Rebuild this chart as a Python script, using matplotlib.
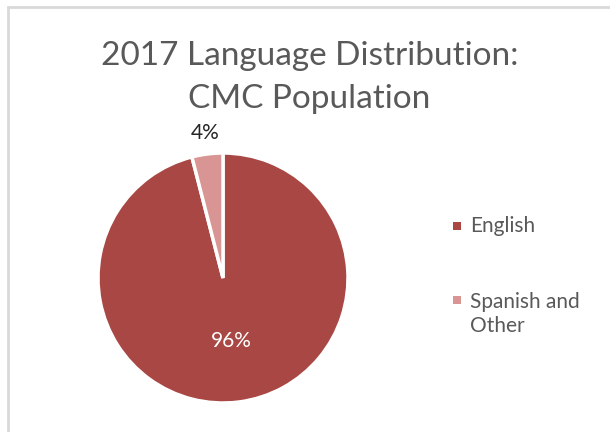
import numpy as np
import matplotlib.pyplot as plt
from matplotlib.patches import Rectangle

languages = ["English", "Spanish and\nOther"]
shares = [96, 4]
colors = ["#A84744", "#D89593"]

plt.rcParams["font.family"] = ["Lato", "DejaVu Sans"]

fig = plt.figure(figsize=(6.10, 4.32), dpi=100)

# light grey frame round the chart area
fig.patches.append(Rectangle((8 / 610, -0.1), 1.2, 1.1 - 7 / 432, transform=fig.transFigure,
                             fill=False, edgecolor="#D9D9D9", linewidth=2))

fig.text(0.507, 1 - 56 / 432, "2017 Language Distribution:", ha="center", va="center",
         fontsize=24, color="#595959")
fig.text(0.507, 1 - 99 / 432, "CMC Population", ha="center", va="center",
         fontsize=24, color="#595959")

cx, cy, r = 223, 278, 125
ax = fig.add_axes([(cx - r) / 610, 1 - (cy + r) / 432, 2 * r / 610, 2 * r / 432])
wedges, texts, autotexts = ax.pie(
    shares, colors=colors, startangle=90, counterclock=False,
    autopct="%.0f%%", pctdistance=0.51,
    wedgeprops=dict(edgecolor="white", linewidth=2.5),
    textprops=dict(fontsize=15),
)
ax.set_xlim(-1, 1)
ax.set_ylim(-1, 1)
ax.set_aspect("auto")

autotexts[0].set_color("white")
# small slice gets its label outside the pie
w = wedges[1]
mid = np.deg2rad((w.theta1 + w.theta2) / 2)
autotexts[1].set_position((1.17 * np.cos(mid), 1.17 * np.sin(mid)))
autotexts[1].set_color("#262626")

# legend
for lab, col, ysq, ytxt in zip(languages, colors, [226, 300], [226, 314]):
    fig.patches.append(Rectangle((453 / 610, 1 - (ysq + 4) / 432), 8 / 610, 8 / 432,
                                 transform=fig.transFigure, facecolor=col, edgecolor="none"))
    fig.text(470 / 610, 1 - ytxt / 432, lab, ha="left", va="center",
             fontsize=15, color="#595959", linespacing=1.3)

fig.savefig("out.png", dpi=100)
